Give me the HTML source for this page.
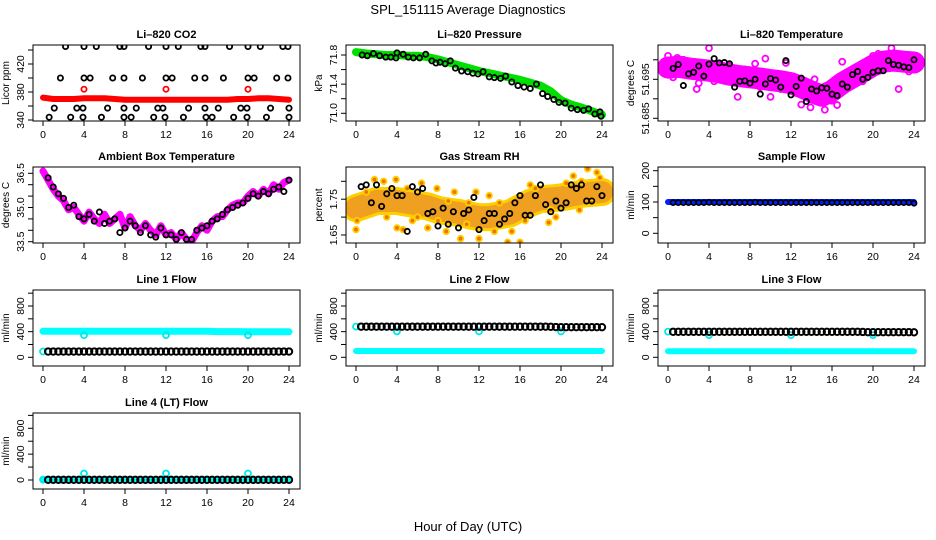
<!DOCTYPE html>
<html><head><meta charset="utf-8">
<style>
html,body{margin:0;padding:0;background:#fff;}
svg{display:block;font-family:"Liberation Sans",Arial,sans-serif;}
</style></head>
<body>
<svg id="chart" width="936" height="540" viewBox="0 0 936 540" xmlns="http://www.w3.org/2000/svg">
<rect x="0" y="0" width="936" height="540" fill="#fff"/>
<text x="468" y="14" font-size="13" text-anchor="middle">SPL_151115  Average Diagnostics</text>
<text x="468" y="531" font-size="13" text-anchor="middle">Hour of Day (UTC)</text>
</svg>
<script>
// ---------- data ----------
const xTicks = [0,4,8,12,16,20,24];
const co2BlackT = [2.2,4,5.2,7.5,7.9,10.3,12,13.2,15.4,15.8,18.2,20,21.2,23.4,23.9, 1.7,4,4.6,6.8,7.9,9.7,12,12.6,14.8,15.8,17.6,20,20.6,22.8,23.9, 1.1,3.3,3.9,6.3,7.9,9.1,11.2,11.7,14.2,15.8,17.1,19.3,19.9,22.2,24, 0.6,2.7,3.9,5.7,7.9,8.6,10.8,11.9,13.7,15.9,16.5,18.6,19.9,21.8,24];
const co2BlackV = [445,445,445,445,445,445,445,445,445,445,445,445,445,445,445, 400,400,400,400,400,400,400,400,400,400,400,400,400,400,400, 357,357,357,357,357,357,357,357,357,357,357,357,357,357,357, 344,344,344,344,344,344,344,344,344,344,344,344,344,344,344];
const co2Red = [372,370,370,370,371,371,371,370,369,369,369,369,369,369,369,369,369,369,369,370,370,371,371,370,369];
const co2RedOutT = [4,12,20];
const co2RedOutV = [384,384,384];

const presGreen = [71.84,71.82,71.81,71.80,71.80,71.79,71.79,71.77,71.74,71.70,71.66,71.62,71.58,71.55,71.52,71.49,71.46,71.42,71.38,71.30,71.18,71.12,71.08,71.03,70.98];
const presBlackT = [0.6,1.1,1.7,2.3,2.9,3.4,3.9,4.0,4.6,5.1,5.6,6.2,6.8,7.4,7.8,8.2,8.7,9.2,9.7,10.3,10.9,11.4,11.9,12.4,13.0,13.5,14.1,14.6,15.2,15.8,16.4,17.0,17.6,18.2,18.7,19.3,19.8,20.4,21.0,21.6,22.2,22.7,23.3,23.8,23.9];
const presBlackV = [71.80,71.79,71.82,71.79,71.77,71.77,71.76,71.83,71.81,71.77,71.76,71.76,71.81,71.72,71.69,71.70,71.68,71.72,71.62,71.58,71.57,71.55,71.54,71.57,71.50,71.49,71.48,71.51,71.43,71.38,71.36,71.34,71.40,71.27,71.23,71.19,71.15,71.14,71.07,71.05,71.04,71.06,70.99,71.02,70.96];

const ltempBand = [51.6980,51.6982,51.6978,51.6975,51.6972,51.6968,51.6962,51.6958,51.6955,51.6952,51.6948,51.6945,51.6940,51.6930,51.6918,51.6908,51.6920,51.6940,51.6955,51.6970,51.6985,51.6995,51.6998,51.6995,51.6993];
const ltempOutT = [0,0.9,2.8,4.0,8.5,9.5,10,11.5,13,13.9,15.3,16.5,16,18,21.8,22.5,20.5,6.8,14.3,3,17,1.5,5.5,7.5,12.5,19,23,10.8,0.5,2,6,9,11,14.8,18.5,20,23.5,4.5];
const ltempOutV = [51.7010,51.7005,51.6925,51.7030,51.6990,51.7003,51.6905,51.6992,51.6885,51.6878,51.6872,51.6884,51.6895,51.6935,51.7030,51.6925,51.7015,51.6905,51.6950,51.6940,51.6995,51.7000,51.6950,51.6975,51.6915,51.6945,51.7005,51.6960,51.6955,51.6995,51.6985,51.6930,51.6925,51.6900,51.6980,51.7010,51.6970,51.6945];
const ltempBlack = [51.6978,51.6988,51.6934,51.6964,51.6968,51.6984,51.6958,51.6989,51.7003,51.6992,51.6993,51.6990,51.6930,51.6945,51.6946,51.6940,51.6950,51.6912,51.6938,51.6952,51.6948,51.6930,51.6998,51.6910,51.6932,51.6953,51.6893,51.6925,51.6920,51.6928,51.6927,51.6912,51.6908,51.6938,51.6930,51.6962,51.6970,51.6950,51.6955,51.6968,51.6972,51.6972,51.6998,51.6988,51.6986,51.6982,51.6980,51.7000];

const ambMagenta = [36.6,36.2,35.8,35.5,35.3,34.9,35.0,34.7,34.4,34.8,34.5,34.3,34.7,34.3,34.5,34.7,34.1,34.6,34.2,34.0,34.3,34.0,33.8,34.2,33.8,33.9,33.6,33.9,33.6,33.5,33.9,34.2,34.0,34.4,34.6,34.6,34.9,35.1,35.2,35.2,35.5,35.7,35.5,35.8,35.6,36.0,35.8,36.1,36.2];
const ambBlack = [36.3,35.9,35.6,35.4,35.0,35.1,34.6,34.5,34.7,34.4,34.8,34.3,34.4,34.5,33.9,34.1,34.4,34.2,33.9,34.2,33.8,33.7,34.1,33.8,33.8,33.6,33.9,33.6,33.6,34.0,34.1,34.2,34.4,34.5,34.7,34.9,35.0,35.1,35.2,35.4,35.6,35.5,35.7,35.6,35.8,35.9,35.7,36.2];

const rhBand = [1.725,1.735,1.745,1.745,1.745,1.740,1.735,1.730,1.720,1.715,1.712,1.705,1.700,1.700,1.705,1.710,1.725,1.740,1.750,1.752,1.755,1.760,1.765,1.768,1.770];
const rhOutT = [0,0.1,1.8,2.7,3.9,4,4.6,6.4,7.9,9.6,10.2,11.7,14.8,13.0,16.0,17.0,18.8,21.2,22.6,23.5,23.8,12,7,5.5,8.8,15.2,19.5,1,3,5,6,8,9,10.8,11,13.5,14,16.5,17.5,19,20.5,21.8,22,23];
const rhOutV = [1.665,1.69,1.805,1.80,1.805,1.67,1.665,1.795,1.78,1.77,1.64,1.77,1.63,1.76,1.63,1.79,1.685,1.815,1.835,1.825,1.81,1.64,1.67,1.69,1.66,1.66,1.70,1.77,1.70,1.78,1.70,1.69,1.745,1.68,1.74,1.66,1.74,1.69,1.78,1.72,1.795,1.72,1.80,1.74];
const rhBlack = [1.785,1.790,1.740,1.790,1.730,1.765,1.780,1.760,1.760,1.660,1.785,1.770,1.780,1.710,1.715,1.675,1.725,1.680,1.715,1.670,1.710,1.720,1.755,1.665,1.690,1.710,1.710,1.680,1.695,1.710,1.740,1.760,1.705,1.705,1.760,1.790,1.735,1.715,1.745,1.725,1.740,1.790,1.780,1.790,1.745,1.745,1.785,1.760];

const sampleBlue = [100,100,100,100,100,100,100,100,100,100,100,100,100,100,100,100,100,100,100,100,100,100,100,100,100];
const sampleBlack = [98,98,98,98,98,98,98,99,98,98,98,98,98,98,98,98,99,98,98,98,98,98,98,98,98,98,98,98,98,98,98,98,98,98,98,98,98,98,98,98,98,98,98,98,98,98,98,96];

const line1Cyan = [405,405,405,405,405,405,405,405,405,405,405,405,405,405,405,405,405,400,400,400,398,398,398,398,398];
const line1Black = [90,90,90,90,90,90,90,90,90,90,90,90,90,90,90,90,90,90,90,90,90,90,90,90,90,90,90,90,90,90,90,90,90,90,90,90,90,90,90,90,90,90,90,90,90,90,90,90];
const line1OutT = [4,12,20,0];
const line1OutV = [345,345,345,90];

const line2Cyan = [98,98,98,98,98,98,98,98,98,98,98,98,98,98,98,98,98,98,98,98,98,98,98,98,98];
const line2Black = [478,478,478,478,478,478,478,478,478,478,478,478,478,478,478,478,478,478,478,478,478,478,478,478,478,478,478,478,478,478,478,478,478,478,478,478,478,475,472,470,470,470,470,470,470,470,470,470];
const line2OutT = [4,12,20,0];
const line2OutV = [405,405,405,478];

const line3Cyan = [95,95,95,95,95,95,95,95,95,95,95,95,95,95,95,95,95,95,95,95,95,95,95,95,95];
const line3Black = [398,398,398,398,398,398,398,398,398,398,398,398,398,398,398,398,398,398,398,398,398,398,398,398,398,398,398,398,398,398,398,398,398,398,398,398,398,395,392,392,392,392,392,392,392,392,392,390];
const line3OutT = [4,12,20,0];
const line3OutV = [345,345,345,400];

const line4Cyan = [5,5,5,5,5,5,5,5,5,5,5,5,5,5,5,5,5,5,5,5,5,5,5,5,5];
const line4Black = [3,3,3,3,3,3,3,3,3,3,3,3,3,3,3,3,3,3,3,3,3,3,3,3,3,3,3,3,3,3,3,3,3,3,3,3,3,3,3,3,3,3,3,3,3,3,3,3];
const line4OutT = [4,12,20,0];
const line4OutV = [100,100,100,5];

// ---------- drawing ----------
const NS = "http://www.w3.org/2000/svg";
const svg = document.getElementById('chart');
const COLX0 = [43,356,668];
const ROWTOP = [45,167,290,413];
const BOXH = 76, PXH = 10.25;
function el(tag, attrs, parent){
  const e = document.createElementNS(NS, tag);
  for (const k in attrs) e.setAttribute(k, attrs[k]);
  parent.appendChild(e);
  return e;
}
function mkY(v0,p0,v1,p1){ return v => p0 + (v-v0)*(p1-p0)/(v1-v0); }
const hourly = i => i;
const half = i => 0.5 + i*0.5;

function panel(col,row,name,title,ytitle,ticks,labels,yf){
  const g = el('g',{},svg);
  
  
  const x0 = COLX0[col], top = ROWTOP[row], left = x0-10, right = x0+257, bot = top+BOXH;
  const xf = h => x0 + h*PXH;
  const plot = el('g',{},g);
  
  
  const cp = el('clipPath',{id:'cp'+name},g);
  el('rect',{x:left,y:top,width:right-left,height:BOXH},cp);
  plot.setAttribute('clip-path','url(#cp'+name+')');
  const box = el('rect',{x:left,y:top,width:right-left,height:BOXH,fill:'none',stroke:'#000','stroke-width':1},g);
  
  
  const t = el('text',{x:(left+right)/2,y:top-7,'font-size':11,'font-weight':'bold','text-anchor':'middle'},g);
  t.textContent = title;
  
  
  const yt = el('text',{x:0,y:0,'font-size':10,'text-anchor':'middle',transform:`translate(${left-24},${(top+bot)/2}) rotate(-90)`},g);
  yt.textContent = ytitle;
  
  
  const xa = el('g',{},g);
  
  
  xTicks.forEach(h=>{
    el('line',{x1:xf(h),x2:xf(h),y1:bot,y2:bot+5,stroke:'#000'},xa);
    const l = el('text',{x:xf(h),y:bot+17,'font-size':10.5,'text-anchor':'middle'},xa);
    l.textContent = h;
    
    
  });
  const ya = el('g',{},g);
  
  
  ticks.forEach(v=>{
    el('line',{x1:left-5,x2:left,y1:yf(v),y2:yf(v),stroke:'#000'},ya);
  });
  labels.forEach(v=>{
    const l = el('text',{x:0,y:0,'font-size':10.5,'text-anchor':'middle',transform:`translate(${left-9},${yf(v)}) rotate(-90)`},ya);
    l.textContent = v;
    
    
  });
  return {plot, xf, yf};
}
function band(p, arr, idx, color, w, name){
  const pts = arr.map((v,i)=>p.xf(idx(i)).toFixed(1)+','+p.yf(v).toFixed(1)).join(' ');
  const l = el('polyline',{points:pts,fill:'none',stroke:color,'stroke-width':w,'stroke-linejoin':'round','stroke-linecap':'round'},p.plot);
  
  
}
function dots(p, ts, vs, color, r, sw, name, fill){
  const g = el('g',{},p.plot);
  
  
  vs.forEach((v,i)=>{
    const c = el('circle',{cx:p.xf(ts(i)),cy:p.yf(v),r:r,fill:fill||'none',stroke:color,'stroke-width':sw},g);
    
    
  });
}
const arrT = a => (i => a[i]);

let p = panel(0,0,'co2','Li\u2013820 CO2','Licor ppm',[340,360,380,400,420,440],[340,380,420],mkY(340,120,440,50));
band(p, co2Red, hourly, '#f00', 6, 'co2-red-band');
dots(p, arrT(co2RedOutT), co2RedOutV, '#f00', 2.6, 1.8, 'co2-red-outliers');
dots(p, arrT(co2BlackT), co2BlackV, '#000', 2.6, 1.8, 'co2-black-points');

p = panel(1,0,'pressure','Li\u2013820 Pressure','kPa',[71.0,71.2,71.4,71.6,71.8],['71.0','71.4','71.8'],mkY(71.0,113.3,71.8,55));
band(p, presGreen, hourly, '#00e000', 8, 'pressure-green-band');
dots(p, arrT(presBlackT), presBlackV, '#000', 2.6, 1.8, 'pressure-black-points');

p = panel(2,0,'li-temp','Li\u2013820 Temperature','degrees C',[51.685,51.690,51.695,51.700],['51.685','51.695'],mkY(51.685,118.3,51.695,79.3));
band(p, ltempBand, hourly, '#f0f', 22, 'li-temp-magenta-band');
dots(p, arrT(ltempOutT), ltempOutV, '#f0f', 3, 1.8, 'li-temp-magenta-points');
dots(p, half, ltempBlack, '#000', 2.6, 1.8, 'li-temp-black-points');

p = panel(0,1,'ambient','Ambient Box Temperature','degrees C',[33.5,34.0,34.5,35.0,35.5,36.0,36.5],['33.5','35.0','36.5'],mkY(33.5,241.7,36.5,173.3));
band(p, ambMagenta, i=>i*0.5, '#f0f', 7, 'ambient-magenta-band');
dots(p, half, ambBlack, '#000', 2.6, 1.8, 'ambient-black-points');

p = panel(1,1,'rh','Gas Stream RH','percent',[1.65,1.70,1.75,1.80],['1.65','1.75'],mkY(1.65,235,1.80,181.3));
band(p, rhBand, hourly, '#ffd000', 28, 'rh-yellow-band');
band(p, rhBand, hourly, '#f0a020', 22, 'rh-orange-band');
dots(p, arrT(rhOutT), rhOutV, '#ffd000', 2.8, 1.8, 'rh-outlier-points', '#f07010');
dots(p, half, rhBlack, '#000', 2.6, 1.8, 'rh-black-points');

p = panel(2,1,'sample-flow','Sample Flow','ml/min',[0,50,100,150,200],[0,100,200],mkY(0,233.3,200,170.7));
band(p, sampleBlue, hourly, '#0020ff', 6, 'sample-flow-blue-line');
dots(p, half, sampleBlack, '#000', 2.6, 1.6, 'sample-flow-black-points');

const flowTicks = [0,200,400,600,800,1000], flowLabels = [0,400,800];
p = panel(0,2,'line1','Line 1 Flow','ml/min',flowTicks,flowLabels,mkY(0,357.3,800,306));
band(p, line1Cyan, hourly, '#00ffff', 7, 'line1-cyan-line');
dots(p, arrT(line1OutT), line1OutV, '#00e8e8', 3, 1.8, 'line1-cyan-points');
dots(p, half, line1Black, '#000', 3.2, 2, 'line1-black-points');

p = panel(1,2,'line2','Line 2 Flow','ml/min',flowTicks,flowLabels,mkY(0,357.3,800,306));
band(p, line2Cyan, hourly, '#00ffff', 6, 'line2-cyan-line');
dots(p, arrT(line2OutT), line2OutV, '#00e8e8', 3, 1.8, 'line2-cyan-points');
dots(p, half, line2Black, '#000', 3.2, 2, 'line2-black-points');

p = panel(2,2,'line3','Line 3 Flow','ml/min',flowTicks,flowLabels,mkY(0,357.3,800,306));
band(p, line3Cyan, hourly, '#00ffff', 6, 'line3-cyan-line');
dots(p, arrT(line3OutT), line3OutV, '#00e8e8', 3, 1.8, 'line3-cyan-points');
dots(p, half, line3Black, '#000', 3.2, 2, 'line3-black-points');

p = panel(0,3,'line4','Line 4 (LT) Flow','ml/min',flowTicks,flowLabels,mkY(0,480,800,428.3));
band(p, line4Cyan, hourly, '#00ffff', 6, 'line4-cyan-line');
dots(p, arrT(line4OutT), line4OutV, '#00e8e8', 3, 1.8, 'line4-cyan-points');
dots(p, half, line4Black, '#000', 3.2, 2, 'line4-black-points');
</script>
</body></html>
